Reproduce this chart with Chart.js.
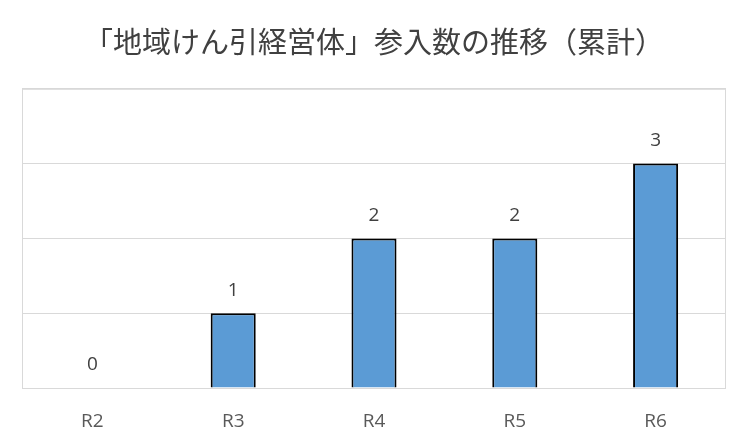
<!DOCTYPE html>
<html>
<head>
<meta charset="utf-8">
<script src="https://cdn.jsdelivr.net/npm/chart.js@4"></script>
<style>
  html, body { margin: 0; padding: 0; background: #fff; }
  #wrap { width: 749px; height: 448px; }
</style>
</head>
<body>
<div id="wrap"><canvas id="graph"></canvas></div>
<script>
const categories = ["R2", "R3", "R4", "R5", "R6"];
const values = [0, 1, 2, 2, 3];
const yTicks = [0, 1, 2, 3, 4];

const titleText = "「地域けん引経営体」参入数の推移（累計）";

// value labels above each bar
const barLabels = {
    id: 'barLabels',
    afterDatasetsDraw(chart){
        const ctx = chart.ctx;
        const meta = chart.getDatasetMeta(0);
        ctx.save();
        ctx.font = '19px "Open Sans", "Noto Sans", sans-serif';
        ctx.fillStyle = '#404040';
        ctx.textAlign = 'center';
        ctx.textBaseline = 'middle';
        meta.data.forEach((bar, i) => {
            ctx.fillText(String(values[i]), bar.x, bar.y - 23);
        });
        ctx.restore();
    }
};

// box round the plot area
const plotBox = {
    id: 'plotBox',
    beforeDatasetsDraw(chart){
        const a = chart.chartArea;
        const ctx = chart.ctx;
        ctx.save();
        ctx.strokeStyle = '#d9d9d9';
        ctx.lineWidth = 1;
        ctx.strokeRect(a.left + 0.5, a.top + 0.5, a.right - a.left - 1, a.bottom - a.top);
        ctx.restore();
    }
};

let chart = new Chart(document.querySelector("#graph").getContext("2d"), {
    type: 'bar',
    data: {
        labels: categories,
        datasets: [{
            data: values,
            backgroundColor: '#5b9bd5',
            borderColor: '#000000',
            borderWidth: 2,
            categoryPercentage: 1,
            barPercentage: 0.32
        }]
    },
    options: {
        responsive: true,
        maintainAspectRatio: false,
        animation: false,
        layout: {
            padding: { left: 22, right: 23, top: 0, bottom: 0 }
        },
        plugins: {
            legend: { display: false },
            tooltip: { enabled: false },
            title: {
                display: true,
                text: titleText,
                color: '#404040',
                font: { family: '"Noto Sans CJK JP", sans-serif', size: 29, weight: 'normal' },
                padding: { top: 25, bottom: 29 }
            }
        },
        scales: {
            x: {
                grid: { display: false, drawTicks: false },
                border: { display: false },
                afterFit(scale){ scale.height = 60; },
                ticks: {
                    color: '#595959',
                    padding: 22,
                    font: { family: '"Open Sans", "Noto Sans", sans-serif', size: 19 }
                }
            },
            y: {
                min: 0,
                max: 4,
                afterBuildTicks(axis){
                    axis.ticks = yTicks.map(v => ({ value: v }));
                },
                grid: { color: '#d9d9d9', lineWidth: 1, drawTicks: false },
                border: { display: false },
                ticks: { display: false }
            }
        }
    },
    plugins: [plotBox, barLabels]
});
</script>
</body>
</html>
